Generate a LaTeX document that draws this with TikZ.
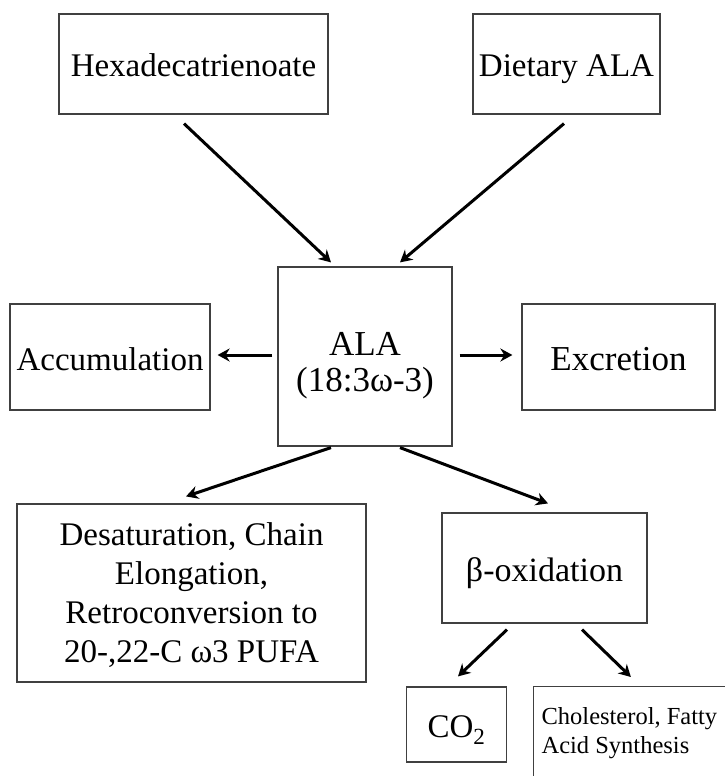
\documentclass[tikz,border=0pt]{standalone}
\usepackage{fontspec}
\setmainfont{Liberation Serif}
\usepackage{tikz}
\usetikzlibrary{arrows.meta}

\begin{document}
\begin{tikzpicture}[
  x=1pt, y=-1pt,
  every node/.style={font=\fontsize{33}{34}\selectfont},
  stage/.style={draw=black!75, line width=1.2pt, align=center, inner sep=0pt},
  oneline/.style={text height=27pt, text depth=1pt},
  flow/.style={->, line width=3pt},
  >={Stealth[length=12pt, width=13pt]}
]
\useasboundingbox (0,0) rectangle (724,776);

\node[stage, oneline, minimum width=269pt, minimum height=100pt]
  (hexa) at (193.5, 64) {Hexadecatrienoate};

\node[stage, oneline, minimum width=187pt, minimum height=100pt]
  (diet) at (566.5, 64) {Dietary ALA};

\node[stage, minimum width=174pt, minimum height=179pt,
      font=\fontsize{35}{36}\selectfont]
  (ala) at (365, 356.5) {\rule{0pt}{41pt}ALA\\(18:3ω-3)};

\node[stage, oneline, minimum width=200pt, minimum height=106pt]
  (accum) at (110, 357) {Accumulation};

\node[stage, oneline, minimum width=193pt, minimum height=106pt,
      font=\fontsize{35}{35}\selectfont]
  (excr) at (618.5, 357) {Excretion};

\node[stage, minimum width=349pt, minimum height=178pt,
      font=\fontsize{33}{39}\selectfont]
  (desat) at (191.5, 593)
  {\rule{0pt}{28pt}Desaturation, Chain\\Elongation,\\Retroconversion to\\20-,22-C ω3 PUFA};

\node[stage, oneline, minimum width=205pt, minimum height=110pt,
      font=\fontsize{34}{34}\selectfont]
  (beta) at (544.5, 568) {β-oxidation};

\node[stage, oneline, minimum width=100pt, minimum height=75pt]
  (co2) at (456.5, 724.5) {CO\textsubscript{2}};

\node[stage, align=left, anchor=north west, inner xsep=8pt,
      minimum height=94pt, font=\fontsize{24.5}{29}\selectfont]
  (chol) at (533, 686) {Cholesterol, Fatty\\Acid Synthesis};

% Arrows
\draw[flow] ([shift={(-9.5,9)}]hexa.south) -- ([shift={(-34,-4)}]ala.north);
\draw[flow] ([shift={(-2.5,9)}]diet.south) -- ([shift={(35,-4)}]ala.north);
\draw[flow] ([shift={(-5,-1.5)}]ala.west) -- ([shift={(7,-2)}]accum.east);
\draw[flow] ([shift={(7,-1.5)}]ala.east) -- ([shift={(-9,-2)}]excr.west);
\draw[flow] ([shift={(-34,1)}]ala.south) -- ([shift={(-5.5,-7)}]desat.north);
\draw[flow] ([shift={(35,1)}]ala.south) -- ([shift={(3.5,-9)}]beta.north);
\draw[flow] ([shift={(-37.5,6)}]beta.south) -- ([shift={(1.5,-10)}]co2.north);
\draw[flow] ([shift={(37.5,6)}]beta.south) -- ([shift={(1.5,-9)}]chol.north);

\end{tikzpicture}
\end{document}
